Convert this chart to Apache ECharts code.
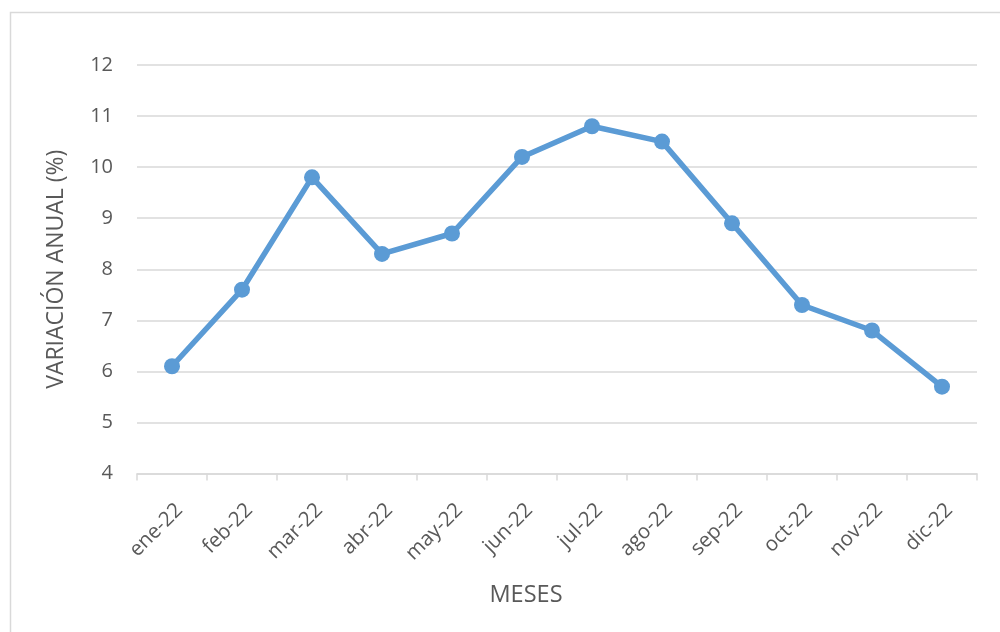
<!DOCTYPE html>
<html>
<head>
<meta charset="utf-8">
<script src="https://cdn.jsdelivr.net/npm/echarts@6/dist/echarts.min.js"></script>
<style>
  html, body { margin: 0; padding: 0; background: #ffffff; }
  #chart { width: 1000px; height: 632px; }
</style>
</head>
<body>
<div id="chart"></div>
<script>
// Monthly annual variation (%) for 2022
const months = ['ene-22', 'feb-22', 'mar-22', 'abr-22', 'may-22', 'jun-22',
                'jul-22', 'ago-22', 'sep-22', 'oct-22', 'nov-22', 'dic-22'];
const variation = [6.1, 7.6, 9.8, 8.3, 8.7, 10.2, 10.8, 10.5, 8.9, 7.3, 6.8, 5.7];
const yMin = 4;
const yMax = 12;
const yStep = 1;

const FONT = '"Open Sans", sans-serif';
const TEXT = '#595959';
const GRID = '#d9d9d9';
const LINE = '#5b9bd5';

const chart = echarts.init(document.getElementById('chart'), null, { renderer: 'canvas' });

chart.setOption({
  backgroundColor: '#ffffff',
  animation: false,
  graphic: [{
    type: 'rect',
    left: 8, top: 10,
    shape: { width: 1010, height: 640 },
    style: { fill: 'none', stroke: GRID, lineWidth: 1.5 },
    silent: true,
    z: -1
  }],
  grid: { left: 137, right: 23, top: 65, bottom: 158.5, containLabel: false },
  xAxis: {
    type: 'category',
    data: months,
    boundaryGap: true,
    name: 'MESES',
    nameLocation: 'middle',
    nameGap: 110,
    nameTextStyle: { color: TEXT, fontFamily: FONT, fontSize: 23.5, padding: [0, 62, 0, 0] },
    axisLine: { show: true, lineStyle: { color: GRID, width: 1.5 } },
    axisTick: { show: true, length: 7, lineStyle: { color: GRID, width: 1.5 } },
    axisLabel: {
      color: TEXT, fontFamily: FONT, fontSize: 20.5, rotate: 45, margin: 26,
      align: 'right', verticalAlign: 'top'
    },
    splitLine: { show: false }
  },
  yAxis: {
    type: 'value',
    min: yMin,
    max: yMax,
    interval: yStep,
    name: 'VARIACIÓN ANUAL (%)',
    nameLocation: 'middle',
    nameGap: 69,
    nameTextStyle: { color: TEXT, fontFamily: FONT, fontSize: 23 },
    axisLine: { show: false },
    axisTick: { show: false },
    axisLabel: { color: TEXT, fontFamily: FONT, fontSize: 20, margin: 24 },
    splitLine: { show: true, lineStyle: { color: GRID, width: 1.5 } }
  },
  series: [{
    type: 'line',
    data: variation,
    symbol: 'circle',
    symbolSize: 16,
    lineStyle: { color: LINE, width: 5.5 },
    itemStyle: { color: LINE },
    z: 3
  }]
});
</script>
</body>
</html>
